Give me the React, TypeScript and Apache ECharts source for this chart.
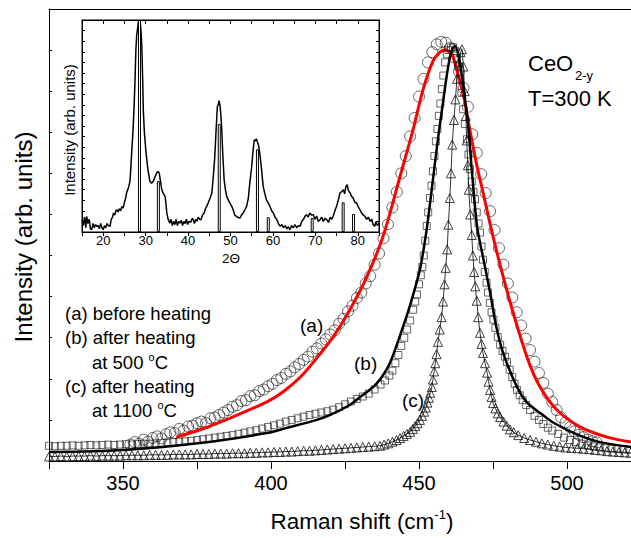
import React, { useEffect, useRef } from "react";
import * as echarts from "echarts";

const FONT = "'Liberation Sans', Arial, sans-serif";

// Main chart tick labels (Raman shift, cm-1)
const mainXLabels = [350, 400, 450, 500];
// Inset tick labels (2Theta)
const insetXLabels = [20, 30, 40, 50, 60, 70, 80];

// (a) before heating - open circles
const circlesA: number[][] = [
  [352.5, 0.40], [354, 0.46], [355.5, 0.42], [357, 0.52], [358.5, 0.47], [360, 0.56], [361.5, 0.60], [363, 0.55],
  [364.5, 0.65], [366, 0.70], [367.5, 0.68], [369, 0.78], [370.5, 0.74], [372, 0.84], [373.5, 0.86], [375, 0.92],
  [376.5, 0.96], [378, 0.92], [379.5, 1.04], [381, 1.06], [382.5, 1.12], [384, 1.18], [385.5, 1.24], [387, 1.32],
  [388.5, 1.36], [390, 1.46], [391.5, 1.48], [393, 1.58], [394.5, 1.60], [396, 1.70], [397.5, 1.74], [399, 1.82],
  [400.5, 1.88], [402, 1.97], [403.5, 2.02], [405, 2.12], [406.5, 2.18], [408, 2.28], [409.5, 2.36], [411, 2.46],
  [412.5, 2.54], [414, 2.66], [415.5, 2.74], [417, 2.86], [418.5, 2.96], [420, 3.08], [421.5, 3.18], [423, 3.34],
  [424.5, 3.46], [426, 3.64], [427.5, 3.78], [429, 3.97], [430.5, 4.10], [432, 4.32], [433.5, 4.50], [435, 4.78],
  [436.5, 5.05], [438, 5.42], [439.5, 5.76], [441, 6.17], [442.5, 6.55], [444, 7.00], [445.5, 7.42], [447, 7.90],
  [448.5, 8.35], [450, 8.87], [451.5, 9.30], [453, 9.70], [454.5, 9.95], [456, 10.14], [457.5, 10.20], [459, 10.18],
  [460.5, 10.06], [462, 9.82], [463.5, 9.48], [465, 9.08], [466.5, 8.62], [468, 7.95], [469.5, 7.50], [471, 6.98],
  [472.5, 6.52], [474, 6.08], [475.5, 5.62], [477, 5.18], [478.5, 4.78], [480, 4.32], [481.5, 3.98], [483, 3.62],
  [484.5, 3.30], [486, 2.98], [487.5, 2.70], [489, 2.42], [490.5, 2.14], [492, 1.90], [493.5, 1.64], [495, 1.44],
  [496.5, 1.24], [498, 1.06], [499.5, 0.94], [501, 0.82], [502.5, 0.72], [504, 0.64], [505.5, 0.58], [507, 0.52],
  [508.5, 0.48], [510, 0.45],
];

// (a) fit - red line
const fitA: number[][] = [
  [368, 0.58], [376, 0.76], [387, 1.07], [398.6, 1.44], [404, 1.68], [410, 2.05], [415.5, 2.51], [421, 3.02],
  [426, 3.60], [432.4, 4.49], [437.8, 5.46], [443.6, 6.93], [448, 8.07], [451.4, 9.05], [454.7, 9.73], [457.1, 9.95],
  [458.8, 10.0], [461.1, 9.90], [463.2, 9.40], [465, 8.90], [467.2, 8.05], [469.5, 7.20], [471.6, 6.54], [475, 5.46],
  [478.4, 4.49], [481.8, 3.61], [486.8, 2.46], [490.9, 1.80], [496.6, 1.24], [504.4, 0.83], [513.5, 0.58], [521.6, 0.46],
];

// (b) after heating at 500 C - open squares
const squaresB: number[][] = [
  [325, 0.37], [327, 0.36], [329, 0.37], [331, 0.37], [333, 0.38], [335, 0.37], [337, 0.38], [339, 0.39],
  [341, 0.38], [343, 0.39], [345, 0.40], [347, 0.39], [349, 0.40], [351, 0.41], [353, 0.40], [355, 0.41],
  [357, 0.42], [359, 0.42], [361, 0.43], [363, 0.44], [365, 0.45], [367, 0.46], [369, 0.47], [371, 0.48],
  [373, 0.49], [375, 0.51], [377, 0.53], [379, 0.55], [381, 0.57], [383, 0.59], [385, 0.61], [387, 0.63],
  [389, 0.66], [391, 0.69], [393, 0.72], [395, 0.75], [397, 0.79], [399, 0.83], [401, 0.87], [403, 0.91],
  [405, 0.96], [407, 1.00], [409, 1.04], [411, 1.08], [413, 1.12], [415, 1.15], [417, 1.18], [419, 1.21],
  [421, 1.25], [423, 1.31], [425, 1.38], [427, 1.45], [429, 1.51], [431, 1.57], [433, 1.64], [435, 1.74],
  [437, 1.86], [438.5, 1.96], [440, 2.08], [441, 2.20], [442, 2.38], [443, 2.58], [444, 2.80], [445, 3.00],
  [446, 3.20], [447, 3.42], [448, 3.68], [448.7, 3.88], [449.3, 4.05], [450, 4.30], [450.6, 4.52], [451.1, 4.72],
  [451.6, 5.00], [452.1, 5.36], [452.6, 5.72], [453.1, 6.05], [453.7, 6.40], [454.2, 6.70], [454.7, 7.05],
  [455.2, 7.42], [455.7, 7.78], [456.2, 8.08], [456.7, 8.40], [457.2, 8.70], [457.7, 9.05], [458.2, 9.38],
  [458.8, 9.70], [459.4, 9.90], [460, 10.00], [460.8, 10.06], [461.5, 10.07], [462.2, 9.98], [462.8, 9.80],
  [463.3, 9.60], [463.8, 9.30], [464.3, 8.96], [464.9, 8.56], [465.5, 8.20], [466.2, 7.83], [466.7, 7.46],
  [467.2, 7.10], [467.8, 6.80], [468.4, 6.55], [468.9, 6.37], [469.5, 6.05], [470.1, 5.78], [470.6, 5.56],
  [471.1, 5.22], [471.6, 4.90], [472.2, 4.60], [472.8, 4.34], [473.3, 4.10], [473.9, 3.85], [474.5, 3.62],
  [475.1, 3.44], [475.8, 3.24], [476.6, 3.02], [477.4, 2.83], [478.2, 2.68], [479, 2.54], [479.7, 2.41],
  [480.6, 2.22], [481.5, 2.04], [482.3, 1.88], [483.1, 1.73], [484, 1.60], [485, 1.48], [486.2, 1.36],
  [487.5, 1.24], [489, 1.10], [490.5, 1.00], [492, 0.90], [493.5, 0.81], [495, 0.74], [497, 0.66], [499, 0.57],
  [501, 0.51], [503, 0.46], [505, 0.42], [507, 0.38], [509, 0.35], [511, 0.33], [513, 0.31], [515, 0.30],
  [517, 0.29], [519, 0.28], [521, 0.27],
];

// (b) fit - black line
const fitB: number[][] = [
  [325, 0.22], [350, 0.27], [376, 0.44], [398.6, 0.68], [405, 0.80], [415.5, 1.00], [420, 1.12], [426.7, 1.37],
  [430, 1.55], [434.5, 1.80], [437, 2.00], [440.2, 2.39], [444.6, 3.27], [447, 3.80], [450.3, 4.66], [452.5, 5.60],
  [454.7, 6.85], [456.5, 7.90], [458.1, 8.73], [459.3, 9.35], [460.5, 9.85], [461.4, 10.05], [462.2, 10.10],
  [463.5, 9.80], [465, 9.10], [466.6, 8.15], [467.8, 7.10], [469.6, 5.71], [471.5, 5.00], [474, 4.10], [476, 3.30],
  [478.4, 2.63], [483.1, 1.80], [486.5, 1.42], [490.9, 1.17], [495, 0.95], [500, 0.76], [505, 0.60], [511.1, 0.46],
  [521.6, 0.34],
];

// (c) after heating at 1100 C - open triangles
const trianglesC: number[][] = [
  [325, 0.11], [327, 0.11], [329, 0.12], [331, 0.11], [333, 0.12], [335, 0.12], [337, 0.12], [339, 0.13],
  [341, 0.12], [343, 0.13], [345, 0.13], [347, 0.13], [349, 0.13], [351, 0.14], [353, 0.14], [355, 0.14],
  [357, 0.14], [359, 0.15], [361, 0.15], [363, 0.15], [365, 0.15], [367, 0.16], [369, 0.16], [371, 0.16],
  [373, 0.16], [375, 0.17], [377, 0.17], [379, 0.17], [381, 0.18], [383, 0.18], [385, 0.18], [387, 0.19],
  [389, 0.19], [391, 0.19], [393, 0.20], [395, 0.20], [397, 0.21], [399, 0.21], [401, 0.22], [403, 0.22],
  [405, 0.23], [407, 0.23], [409, 0.24], [411, 0.25], [413, 0.25], [415, 0.26], [417, 0.27], [419, 0.28],
  [421, 0.29], [423, 0.30], [425, 0.31], [427, 0.32], [429, 0.33], [431, 0.34], [433, 0.35], [435, 0.36],
  [436.8, 0.37], [438.2, 0.40], [439.6, 0.43], [441, 0.47], [442.4, 0.51], [443.6, 0.56], [444.8, 0.61],
  [445.9, 0.66], [447, 0.71], [447.9, 0.78], [448.7, 0.85], [449.5, 0.92], [450.3, 1.00], [451, 1.10],
  [451.7, 1.20], [452.3, 1.30], [452.8, 1.42], [453.3, 1.54], [453.8, 1.66], [454.3, 1.80], [454.7, 1.98],
  [455.1, 2.18], [455.5, 2.38], [455.9, 2.60], [456.4, 2.90], [457, 3.20], [457.6, 3.50], [458.1, 3.88],
  [458.6, 4.30], [459, 4.70], [459.5, 5.15], [459.9, 5.75], [460.4, 6.40], [460.8, 7.00], [461.2, 7.70],
  [461.8, 8.30], [462.3, 8.80], [462.8, 9.30], [463.4, 9.70], [464, 9.95], [464.5, 10.02], [465, 9.60],
  [465.4, 9.00], [465.8, 8.40], [466.1, 7.80], [466.5, 7.20], [466.8, 6.60], [467.3, 6.00], [467.8, 5.50],
  [468.2, 5.00], [468.6, 4.60], [469, 4.25], [469.5, 3.90], [470, 3.50], [470.6, 3.12], [471.1, 2.85],
  [471.6, 2.63], [472.3, 2.38], [473, 2.15], [473.5, 1.93], [474, 1.73], [474.5, 1.56], [475, 1.41],
  [475.8, 1.28], [476.6, 1.16], [477.4, 1.07], [478.5, 0.96], [479.6, 0.86], [480.7, 0.77], [482, 0.70],
  [483.5, 0.63], [485.5, 0.56], [487.5, 0.51], [489.5, 0.47], [491.5, 0.43], [493.5, 0.40], [495.5, 0.37],
  [497.5, 0.35], [499.5, 0.33], [501.5, 0.32], [503.5, 0.31], [505.5, 0.30], [507.5, 0.29], [509.5, 0.27],
  [511.5, 0.26], [513.5, 0.24], [515.5, 0.23], [517.5, 0.22], [519.5, 0.21], [521.5, 0.20],
];

// Inset: XRD pattern
const xrdPattern: number[][] = [
  [15.0, 0.058], [15.3, 0.03], [15.6, 0.07], [15.9, 0.02], [16.1, 0.074], [16.4, 0.04], [16.7, 0.06], [17.0, 0.015],
  [17.3, 0.011], [17.6, 0.04], [17.9, 0.02], [18.2, 0.035], [18.5, 0.027], [18.8, 0.03], [19.1, 0.015], [19.4, 0.04],
  [19.7, 0.02], [20.0, 0.011], [20.3, 0.03], [20.6, 0.02], [20.9, 0.04], [21.2, 0.03], [21.6, 0.027], [21.9, 0.06],
  [22.2, 0.07], [22.4, 0.089], [22.7, 0.08], [23.0, 0.10], [23.2, 0.105], [23.5, 0.095], [23.8, 0.11], [24.1, 0.10],
  [24.4, 0.12], [24.7, 0.113], [25.0, 0.14], [25.3, 0.16], [25.5, 0.184], [25.8, 0.20], [26.1, 0.22], [26.3, 0.239],
  [26.5, 0.30], [26.7, 0.372], [27.0, 0.47], [27.25, 0.576], [27.5, 0.72], [27.7, 0.859], [27.9, 0.93], [28.1, 0.96],
  [28.3, 0.992], [28.5, 0.985], [28.7, 0.997], [28.9, 0.95], [29.1, 0.874], [29.3, 0.72], [29.45, 0.576], [29.7, 0.47],
  [30.1, 0.372], [30.5, 0.30], [31.0, 0.239], [31.4, 0.23], [31.8, 0.239], [32.2, 0.26], [32.6, 0.278], [32.9, 0.285],
  [33.2, 0.278], [33.5, 0.24], [33.8, 0.20], [34.2, 0.18], [34.6, 0.168], [34.8, 0.13], [35.0, 0.089], [35.3, 0.06],
  [35.7, 0.042], [36.0, 0.06], [36.3, 0.03], [36.6, 0.05], [36.9, 0.035], [37.2, 0.06], [37.5, 0.03], [37.8, 0.05],
  [38.1, 0.042], [38.4, 0.055], [38.7, 0.03], [39.0, 0.05], [39.3, 0.04], [39.6, 0.06], [39.9, 0.035], [40.2, 0.05],
  [40.6, 0.045], [41.0, 0.065], [41.2, 0.058], [41.5, 0.04], [41.8, 0.06], [42.1, 0.05], [42.4, 0.07], [42.8, 0.058],
  [43.1, 0.06], [43.4, 0.08], [43.8, 0.09], [44.1, 0.11], [44.4, 0.121], [44.8, 0.14], [45.2, 0.16], [45.6, 0.184],
  [45.9, 0.25], [46.1, 0.30], [46.3, 0.356], [46.6, 0.48], [46.9, 0.592], [47.1, 0.60], [47.3, 0.62], [47.5, 0.60],
  [47.7, 0.56], [47.9, 0.498], [48.2, 0.36], [48.5, 0.246], [48.8, 0.20], [49.1, 0.168], [49.5, 0.15], [49.9, 0.135],
  [50.3, 0.121], [50.7, 0.10], [51.0, 0.08], [51.4, 0.074], [51.8, 0.068], [52.2, 0.066], [52.6, 0.08], [53.0, 0.09],
  [53.4, 0.105], [53.8, 0.121], [54.2, 0.16], [54.6, 0.24], [55.0, 0.309], [55.3, 0.38], [55.6, 0.435], [55.9, 0.43],
  [56.1, 0.44], [56.3, 0.427], [56.6, 0.41], [56.9, 0.372], [57.3, 0.30], [57.7, 0.215], [58.1, 0.18], [58.5, 0.15],
  [58.9, 0.137], [59.3, 0.12], [59.7, 0.10], [60.1, 0.089], [60.5, 0.07], [60.9, 0.06], [61.3, 0.04], [61.7, 0.027],
  [62.1, 0.035], [62.5, 0.02], [62.9, 0.03], [63.3, 0.015], [63.6, 0.025], [64.0, 0.011], [64.4, 0.03], [64.8, 0.02],
  [65.2, 0.035], [65.6, 0.02], [66.0, 0.03], [66.4, 0.027], [66.8, 0.05], [67.2, 0.06], [67.6, 0.075], [67.9, 0.082],
  [68.3, 0.07], [68.7, 0.09], [69.1, 0.08], [69.5, 0.082], [69.9, 0.06], [70.3, 0.075], [70.7, 0.05], [71.1, 0.058],
  [71.5, 0.07], [71.9, 0.05], [72.3, 0.065], [72.7, 0.058], [73.1, 0.045], [73.5, 0.07], [73.9, 0.06], [74.2, 0.074],
  [74.6, 0.10], [75.0, 0.121], [75.4, 0.15], [75.8, 0.184], [76.2, 0.19], [76.6, 0.20], [76.9, 0.18], [77.2, 0.215],
  [77.5, 0.223], [77.8, 0.195], [78.2, 0.184], [78.5, 0.17], [78.9, 0.16], [79.3, 0.14], [79.7, 0.137], [80.1, 0.12],
  [80.5, 0.105], [80.9, 0.09], [81.3, 0.08], [81.7, 0.074], [82.1, 0.06], [82.5, 0.07], [82.9, 0.05], [83.3, 0.06],
  [83.6, 0.035], [84.0, 0.027], [84.3, 0.05], [84.6, 0.03], [85.0, 0.042],
];

// Inset: reference reflections (bars)
const xrdBars: number[][] = [
  [28.55, 1.0], [33.0, 0.24], [47.35, 0.51], [56.35, 0.39], [58.9, 0.07], [69.25, 0.066], [76.55, 0.14], [79.0, 0.085],
];

const black = "#000";
const hollow = { color: "transparent", borderColor: "#111", borderWidth: 0.8 };

function buildOption(): any {
  const txt = (text: string, x: number, y: number, fontSize: number, extra: any = {}) => ({
    type: "text",
    x,
    y,
    ...extra,
    style: {
      text,
      fontSize,
      fontFamily: FONT,
      fill: black,
      align: "left",
      verticalAlign: "middle",
      ...(extra.style || {}),
    },
  });
  const degLine = (prefix: string, x: number, y: number) => ({
    type: "text", x, y,
    style: {
      text: `{n|${prefix}}{s|o}{n|C}`, align: "left", verticalAlign: "middle",
      rich: {
        n: { fontSize: 18.5, fontFamily: FONT, fill: black, lineHeight: 22 },
        s: { fontSize: 11, fontFamily: FONT, fill: black, lineHeight: 12, verticalAlign: "top" },
      },
    },
  });
  return {
    animation: false,
    backgroundColor: "#fff",
    grid: [
      { left: 49, top: 9, width: 582, height: 452 },
      { left: 82, top: 20, width: 297, height: 212, show: true, borderColor: black, borderWidth: 1, backgroundColor: "transparent" },
    ],
    xAxis: [
      {
        gridIndex: 0, type: "value", min: 325, max: 521.6, interval: 25,
        axisLine: { show: true, onZero: false, lineStyle: { color: black, width: 1 } },
        axisTick: { show: true, inside: false, length: 8, lineStyle: { color: black, width: 1 } },
        axisLabel: {
          show: true, margin: 12, fontSize: 20, color: black, fontFamily: FONT, showMaxLabel: false,
          formatter: (v: number) => (mainXLabels.includes(Math.round(v)) ? String(Math.round(v)) : ""),
        },
        splitLine: { show: false },
      },
      {
        gridIndex: 0, type: "value", position: "top", min: 325, max: 521.6, interval: 25,
        axisLine: { show: true, onZero: false, lineStyle: { color: black, width: 1 } },
        axisTick: { show: false }, axisLabel: { show: false }, splitLine: { show: false },
      },
      {
        gridIndex: 1, type: "value", min: 15, max: 85, interval: 5,
        axisLine: { show: true, onZero: false, lineStyle: { color: black, width: 1 } },
        axisTick: { show: true, inside: false, length: 4, lineStyle: { color: black } },
        axisLabel: {
          show: true, margin: 2, fontSize: 13, color: black, fontFamily: FONT,
          formatter: (v: number) => (insetXLabels.includes(Math.round(v)) ? String(Math.round(v)) : ""),
        },
        splitLine: { show: false },
      },
      {
        gridIndex: 1, type: "value", position: "top", min: 15, max: 85, interval: 5,
        axisLine: { show: true, onZero: false, lineStyle: { color: black, width: 1 } },
        axisTick: { show: true, inside: true, length: 4, lineStyle: { color: black } },
        axisLabel: { show: false }, splitLine: { show: false },
      },
    ],
    yAxis: [
      {
        gridIndex: 0, type: "value", min: 0, max: 11, interval: 1,
        axisLine: { show: true, onZero: false, lineStyle: { color: black, width: 1 } },
        axisTick: { show: true, inside: true, length: 3, lineStyle: { color: black } },
        axisLabel: { show: false }, splitLine: { show: false },
      },
      {
        gridIndex: 1, type: "value", min: 0, max: 1, interval: 0.05,
        axisLine: { show: true, onZero: false, lineStyle: { color: black, width: 1 } },
        axisTick: { show: true, inside: true, length: 3, lineStyle: { color: black } },
        axisLabel: { show: false }, splitLine: { show: false },
      },
      {
        gridIndex: 1, type: "value", position: "right", min: 0, max: 1, interval: 0.05,
        axisLine: { show: true, onZero: false, lineStyle: { color: black, width: 1 } },
        axisTick: { show: true, inside: true, length: 3, lineStyle: { color: black } },
        axisLabel: { show: false }, splitLine: { show: false },
      },
    ],
    series: [
      {
        name: "(a)", type: "scatter", xAxisIndex: 0, yAxisIndex: 0, data: circlesA,
        symbol: "circle", symbolSize: 11, itemStyle: hollow, z: 2, silent: true,
      },
      {
        name: "(a) fit", type: "line", xAxisIndex: 0, yAxisIndex: 0, data: fitA, symbol: "none",
        smooth: 0.3, lineStyle: { color: "#ff0000", width: 3 }, z: 3, silent: true,
      },
      {
        name: "(b)", type: "scatter", xAxisIndex: 0, yAxisIndex: 0, data: squaresB,
        symbol: "rect", symbolSize: 7, itemStyle: hollow, z: 4, silent: true,
      },
      {
        name: "(b) fit", type: "line", xAxisIndex: 0, yAxisIndex: 0, data: fitB, symbol: "none",
        smooth: 0.3, lineStyle: { color: black, width: 2.5 }, z: 5, silent: true,
      },
      {
        name: "(c)", type: "line", xAxisIndex: 0, yAxisIndex: 0, data: trianglesC,
        symbol: "triangle", symbolSize: 9, showSymbol: true, itemStyle: hollow,
        lineStyle: { color: black, width: 0.8 }, z: 6, silent: true,
      },
      {
        name: "XRD", type: "line", xAxisIndex: 2, yAxisIndex: 1, data: xrdPattern, symbol: "none",
        lineStyle: { color: black, width: 1.5 }, z: 7, silent: true,
      },
      {
        name: "bars", type: "bar", xAxisIndex: 2, yAxisIndex: 1, data: xrdBars, barWidth: 3,
        itemStyle: { color: "#fff", borderColor: black, borderWidth: 1 }, z: 8, silent: true,
      },
    ],
    graphic: [
      txt("Intensity (arb. units)", 23, 237, 24, { rotation: Math.PI / 2, style: { align: "center" } }),
      {
        type: "text", x: 362, y: 521,
        style: {
          text: "{n|Raman shift (cm}{s|-1}{n|)}", align: "center", verticalAlign: "middle",
          rich: {
            n: { fontSize: 22.5, fontFamily: FONT, fill: black, lineHeight: 26 },
            s: { fontSize: 13, fontFamily: FONT, fill: black, lineHeight: 14, verticalAlign: "top" },
          },
        },
      },
      txt("Intensity (arb. units)", 69, 130, 15, { rotation: Math.PI / 2, style: { align: "center" } }),
      txt("2\u0398", 231, 258, 13.5, { style: { align: "center" } }),
      txt("CeO", 528, 63, 22),
      txt("2-y", 575, 75, 13),
      txt("T=300 K", 528, 98, 22),
      txt("(a) before heating", 65, 313, 18.5),
      txt("(b) after heating", 65, 337, 18.5),
      degLine("at 500 ", 92, 362),
      txt("(c) after heating", 65, 386, 18.5),
      degLine("at 1100 ", 92, 410),
      txt("(a)", 300, 325, 19),
      txt("(b)", 354, 363, 19),
      txt("(c)", 402, 400, 19),
    ],
  };
}

export default function App() {
  const ref = useRef<HTMLDivElement>(null);
  useEffect(() => {
    if (!ref.current) return;
    const chart = echarts.init(ref.current, null, { renderer: "svg" });
    chart.setOption(buildOption());
    return () => chart.dispose();
  }, []);
  return (
    <div
      ref={ref}
      style={{ position: "absolute", left: 0, top: 0, width: 631, height: 538, background: "#fff" }}
    />
  );
}
